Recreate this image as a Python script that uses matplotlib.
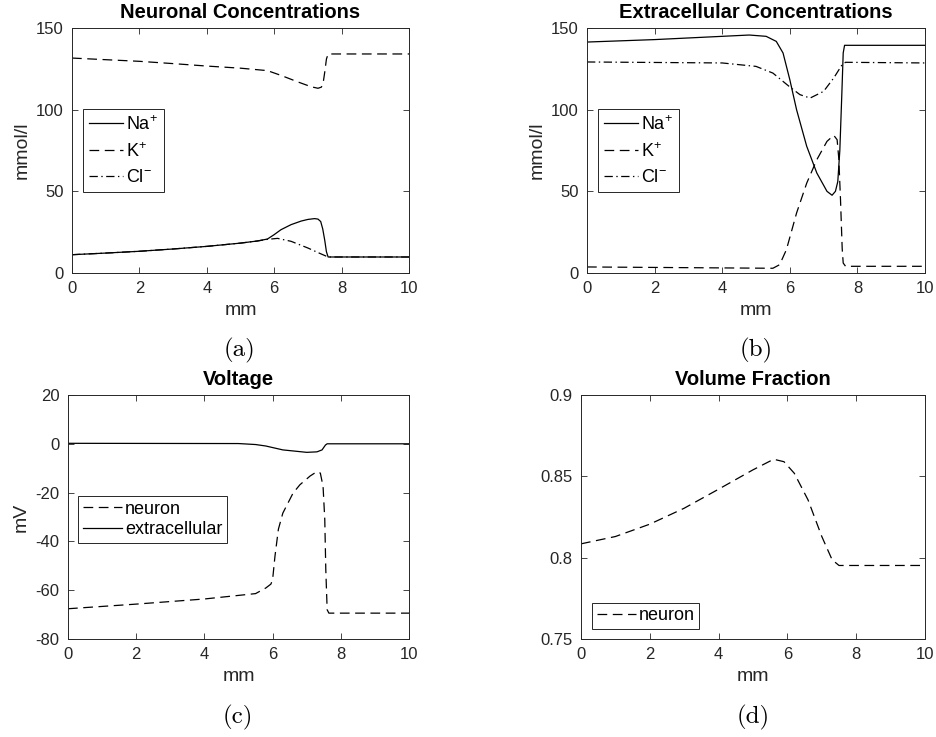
import matplotlib
matplotlib.use("Agg")
import matplotlib.pyplot as plt

plt.rcParams['font.family'] = ['Liberation Sans', 'DejaVu Sans']
plt.rcParams['mathtext.default'] = 'regular'
plt.rcParams['lines.scale_dashes'] = False
plt.rcParams['axes.unicode_minus'] = False

# (a) neuronal concentrations
a_na_x = [0, 1, 2, 3, 4, 5, 5.5, 5.8, 6.0, 6.2, 6.5, 6.8, 7.0, 7.2, 7.3, 7.38, 7.44, 7.5, 7.55, 7.6, 10]
a_na_y = [11.2, 12.2, 13.3, 14.7, 16.3, 18.3, 19.6, 20.8, 23.5, 26.5, 29.6, 31.8, 32.8, 33.3, 33.0, 31.5, 27, 20, 13, 9.8, 9.8]
a_k_x = [0, 1, 2, 3, 4, 5, 5.8, 6.2, 6.7, 7.1, 7.3, 7.4, 7.45, 7.5, 7.55, 7.6, 10]
a_k_y = [131.6, 130.6, 129.6, 128.2, 126.7, 125.4, 123.9, 121, 117, 114, 113.1, 113.8, 116, 123, 131, 134.1, 134.1]
a_cl_x = [0, 1, 2, 3, 4, 5, 5.5, 5.8, 6.1, 6.5, 7.0, 7.3, 7.6, 10]
a_cl_y = [11.2, 12.2, 13.3, 14.7, 16.3, 18.3, 19.6, 20.6, 21.2, 19.4, 15.3, 12.5, 9.8, 9.8]

# (b) extracellular concentrations
b_na_x = [0, 2, 4, 4.8, 5.3, 5.6, 5.8, 6.0, 6.2, 6.5, 6.8, 7.1, 7.25, 7.35, 7.42, 7.48, 7.54, 7.58, 7.62, 10]
b_na_y = [141.4, 142.9, 144.9, 145.7, 144.9, 141.8, 134.7, 118.4, 100, 77.6, 61.2, 50, 47.6, 50, 56, 75, 110, 134.7, 139.4, 139.4]
b_k_x = [0, 5.5, 5.7, 5.9, 6.2, 6.5, 6.8, 7.1, 7.3, 7.4, 7.45, 7.5, 7.55, 7.58, 7.65, 10]
b_k_y = [3.7, 2.9, 5.1, 14.3, 36.7, 55, 69.4, 80.6, 84.3, 81.6, 70, 45, 15, 6.1, 4.1, 4.1]
b_cl_x = [0, 4, 5, 5.5, 6.0, 6.3, 6.6, 7.0, 7.3, 7.55, 7.65, 10]
b_cl_y = [129.2, 128.6, 126.5, 122.4, 113.9, 109.2, 107.1, 111.2, 119.4, 127.6, 129, 128.6]

# (c) voltage
c_neu_x = [0, 2, 4, 5.5, 5.8, 5.95, 6.0, 6.07, 6.17, 6.3, 6.6, 6.8, 7.1, 7.3, 7.4, 7.48, 7.53, 7.56, 7.6, 7.65, 10]
c_neu_y = [-67.6, -65.7, -63.6, -61.4, -59.1, -57.5, -55.7, -46, -35, -28.4, -20.2, -16.8, -13.2, -11.4, -12, -17.5, -31, -51.6, -68, -69.4, -69.4]
c_ext_x = [0, 5.0, 5.5, 5.8, 6.3, 7.0, 7.3, 7.45, 7.55, 7.6, 10]
c_ext_y = [0.2, 0.1, -0.3, -0.9, -2.5, -3.5, -3.3, -2.5, -0.5, 0.0, 0.0]

# (d) volume fraction
d_x = [0, 1, 2, 3, 4, 5, 5.6, 5.9, 6.2, 6.6, 7.0, 7.3, 7.5, 10]
d_y = [0.8085, 0.813, 0.8206, 0.8304, 0.8421, 0.854, 0.8605, 0.859, 0.8519, 0.8355, 0.813, 0.7987, 0.7952, 0.7952]

W, H = 936, 737
fig = plt.figure(figsize=(W / 100, H / 100), dpi=100)

def box(l, t, r, b):
    return [l / W, (H - b) / H, (r - l) / W, (b - t) / H]

dash = dict(ls=(0, (7, 4)))
dashdot = dict(ls=(0, (6, 2.5, 1, 2.5)))
grey = '#262626'

def style(ax, title, ylabel, ylim, yticks):
    ax.set_xlim(0, 10)
    ax.set_ylim(*ylim)
    ax.set_xticks([0, 2, 4, 6, 8, 10])
    ax.set_yticks(yticks)
    ax.tick_params(direction='in', top=True, right=True, length=4, width=0.6,
                   colors=grey, labelsize=12, labelcolor=grey, pad=6)
    for s in ax.spines.values():
        s.set_color(grey)
        s.set_linewidth(0.7)
    ax.set_title(title, fontsize=14.5, fontweight='bold', pad=7)
    ax.set_xlabel('mm', fontsize=14, color=grey, labelpad=4)
    if ylabel:
        ax.set_ylabel(ylabel, fontsize=14, color=grey, labelpad=4)

def legend(ax, loc, anchor, spacing=0.2, pad=0.25, hl=2.2):
    leg = ax.legend(loc=loc, bbox_to_anchor=anchor, fontsize=13, handlelength=hl,
                    handletextpad=0.15, borderpad=pad, labelspacing=spacing,
                    fancybox=False, framealpha=1, edgecolor=grey, borderaxespad=0)
    leg.get_frame().set_linewidth(0.7)

lw = 0.9
ax = fig.add_axes(box(72, 28, 409, 273))
ax.plot(a_na_x, a_na_y, 'k-', lw=lw, label='Na$^{+}$')
ax.plot(a_k_x, a_k_y, color='k', lw=lw, label='K$^{+}$', **dash)
ax.plot(a_cl_x, a_cl_y, color='k', lw=lw, label='Cl$^{-}$', **dashdot)
style(ax, 'Neuronal Concentrations', 'mmol/l', (0, 150), [0, 50, 100, 150])
legend(ax, 'upper left', (0.033, 0.67), spacing=0.47, pad=0.33, hl=1.9)

ax = fig.add_axes(box(587, 28, 925, 273))
ax.plot(b_na_x, b_na_y, 'k-', lw=lw, label='Na$^{+}$')
ax.plot(b_k_x, b_k_y, color='k', lw=lw, label='K$^{+}$', **dash)
ax.plot(b_cl_x, b_cl_y, color='k', lw=lw, label='Cl$^{-}$', **dashdot)
style(ax, 'Extracellular Concentrations', 'mmol/l', (0, 150), [0, 50, 100, 150])
legend(ax, 'upper left', (0.033, 0.67), spacing=0.47, pad=0.33, hl=1.9)

ax = fig.add_axes(box(68, 395, 409, 639))
ax.plot(c_neu_x, c_neu_y, color='k', lw=lw, label='neuron', **dash)
ax.plot(c_ext_x, c_ext_y, 'k-', lw=lw, label='extracellular')
style(ax, 'Voltage', 'mV', (-80, 20), [-80, -60, -40, -20, 0, 20])
legend(ax, 'upper left', (0.03, 0.586))

ax = fig.add_axes(box(581, 395, 925, 639))
ax.plot(d_x, d_y, color='k', lw=lw, label='neuron', **dash)
style(ax, 'Volume Fraction', None, (0.75, 0.9), [0.75, 0.8, 0.85, 0.9])
ax.set_yticklabels(['0.75', '0.8', '0.85', '0.9'])
legend(ax, 'lower left', (0.032, 0.041))

for label, x, y in [('(a)', 240, 350), ('(b)', 756, 350), ('(c)', 238, 717), ('(d)', 753, 717)]:
    fig.text(x / W, 1 - y / H, label, family='cmr10', fontsize=18, ha='center', va='center')

fig.savefig('out.png', dpi=100)
